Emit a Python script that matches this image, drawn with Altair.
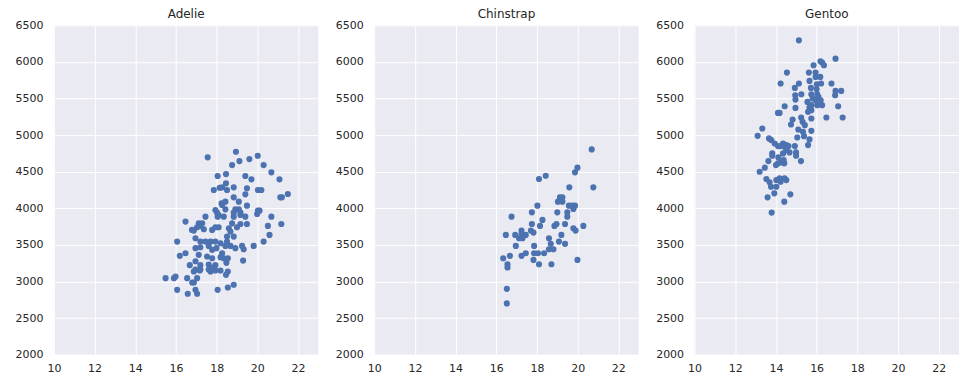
import altair as alt
import pandas as pd

species = ["Adelie", "Chinstrap", "Gentoo"]

adelie_depth = [17.56,18.05,17.86,18.15,18.24,17.94,18.02,18.10,18.05,16.47,17.12,17.29,17.45,17.20,17.37,17.04,16.88,16.79,17.78,17.94,18.10,16.06,16.96,17.20,17.45,17.70,17.94,18.19,16.96,17.20,17.61,17.78,17.99,16.19,16.47,17.12,17.53,17.78,18.19,18.48,16.68,16.96,17.20,17.61,17.94,16.96,17.20,17.61,17.78,16.88,17.17,17.70,17.94,18.19,15.49,15.90,15.98,16.55,16.80,16.88,17.04,16.06,16.58,16.96,17.04,18.05,
                18.95,18.76,19.12,19.61,20.02,20.31,20.69,21.09,18.46,19.41,19.71,18.46,18.27,18.51,18.84,19.49,20.03,20.20,19.41,21.13,21.21,21.50,18.43,18.84,19.09,18.27,19.49,18.43,18.92,19.09,19.17,18.84,20.03,20.11,19.99,18.35,18.84,19.17,19.41,20.69,18.76,19.17,19.49,18.60,19.00,20.52,21.18,18.68,18.84,18.51,20.60,20.31,19.82,18.51,18.43,18.68,18.92,19.25,19.33,18.27,18.35,18.55,19.30,18.55,18.46,18.55,18.84]
adelie_mass = [4696,4441,4250,4281,4068,3977,3940,3909,3886,3818,3795,3795,3886,3760,3714,3741,3695,3705,3705,3741,3741,3545,3591,3545,3545,3545,3545,3523,3455,3468,3486,3432,3455,3350,3386,3364,3341,3318,3332,3255,3223,3277,3223,3232,3223,3164,3164,3164,3186,3136,3150,3136,3150,3150,3045,3045,3068,3045,2986,2986,3045,2886,2832,2886,2832,2886,
               4773,4591,4645,4673,4718,4591,4491,4396,4468,4441,4396,4341,4286,4250,4286,4273,4250,4250,4191,4150,4150,4195,4091,4150,4091,4045,4036,3986,3986,3986,3940,3940,3968,3968,3923,3886,3886,3909,3886,3886,3795,3786,3786,3727,3741,3759,3786,3682,3614,3614,3636,3545,3486,3545,3486,3486,3455,3486,3441,3386,3318,3318,3286,3136,3091,2918,2955]

chinstrap_depth = [18.10,18.02,17.75,16.75,17.75,18.15,16.47,16.93,17.24,17.24,17.45,17.12,17.29,17.70,17.83,16.96,17.86,16.34,16.67,17.24,17.45,17.86,18.05,17.83,18.10,16.55,16.55,16.52,16.52,20.69,19.99,19.87,18.43,20.77,19.59,19.13,19.25,19.03,19.25,19.57,19.74,19.87,19.79,19.49,19.49,19.00,18.27,18.86,18.96,19.38,19.79,19.90,20.28,18.59,19.20,18.68,19.08,19.38,18.59,18.81,18.35,18.71,19.99]
chinstrap_mass = [4400,4036,3945,3886,3786,3759,3636,3636,3695,3650,3636,3591,3591,3695,3668,3486,3486,3318,3350,3350,3386,3386,3386,3295,3236,3236,3191,2900,2700,4805,4555,4491,4445,4286,4286,4150,4150,4091,4091,4036,4036,4036,3991,3945,3886,3945,3841,3759,3786,3786,3727,3695,3759,3591,3636,3514,3545,3514,3441,3441,3386,3236,3295]

gentoo_depth = [15.13,16.19,16.27,16.36,16.93,15.85,14.54,15.62,15.95,15.95,16.18,14.23,15.13,15.65,16.22,16.73,16.01,14.93,15.72,16.00,16.93,17.21,16.91,14.95,15.25,15.74,16.03,16.09,14.96,15.55,15.80,15.95,16.20,15.74,16.03,16.27,14.10,14.18,14.43,14.96,15.65,15.74,15.58,17.06,14.82,15.24,15.31,15.74,16.48,17.28,14.74,15.10,15.42,15.74,15.33,15.05,15.38,15.65,15.58,13.33,13.66,13.77,13.94,14.10,14.23,14.35,14.51,14.62,14.93,14.46,13.82,13.82,14.35,14.51,14.67,14.99,14.99,15.23,13.63,14.12,14.25,14.41,14.00,13.45,14.38,14.10,13.53,13.69,14.02,14.18,14.23,13.76,14.02,13.92,13.59,14.41,14.71,13.79,14.42,14.51,13.10,13.20]
gentoo_mass = [6295,6009,5991,5955,6045,5955,5855,5855,5855,5795,5795,5705,5705,5741,5705,5705,5695,5645,5645,5627,5604,5604,5545,5545,5559,5559,5559,5522,5486,5454,5500,5477,5477,5409,5409,5409,5304,5304,5395,5372,5377,5341,5318,5395,5214,5241,5182,5227,5241,5241,5145,5077,5136,5059,5045,4968,4986,4941,4864,5091,4955,4932,4886,4850,4850,4886,4864,4850,4850,4832,4750,4718,4750,4795,4764,4764,4718,4645,4645,4695,4627,4614,4591,4555,4659,4614,4400,4355,4386,4409,4364,4295,4295,4205,4150,4091,4191,3941,4409,4386,4990,4500]

x_ticks = [10, 12, 14, 16, 18, 20, 22]
y_ticks = [2000, 2500, 3000, 3500, 4000, 4500, 5000, 5500, 6000, 6500]

frames = []
for name, d, m in [("Adelie", adelie_depth, adelie_mass),
                   ("Chinstrap", chinstrap_depth, chinstrap_mass),
                   ("Gentoo", gentoo_depth, gentoo_mass)]:
    frames.append(pd.DataFrame({"species": name, "bill_depth_mm": d, "body_mass_g": m}))
df = pd.concat(frames, ignore_index=True)

panels = []
for name in species:
    c = alt.Chart(df).transform_filter(alt.datum.species == name).mark_circle(
        size=38, opacity=1, color="#4C72B0"
    ).encode(
        x=alt.X("bill_depth_mm:Q", scale=alt.Scale(domain=[10, 23], nice=False, zero=False),
                axis=alt.Axis(values=x_ticks, title=None, labelFlush=False)),
        y=alt.Y("body_mass_g:Q", scale=alt.Scale(domain=[2000, 6500], nice=False, zero=False),
                axis=alt.Axis(values=y_ticks, title=None, format="d")),
    ).properties(width=265, height=330,
                 title=alt.TitleParams(name, fontSize=12, font="DejaVu Sans",
                                       fontWeight="normal", color="#262626", offset=-2))
    panels.append(c)

chart = alt.hconcat(*panels, spacing=17).properties(
    padding={"left": 7, "top": 0, "right": 5, "bottom": 5}
).configure_view(
    fill="#EAEAF2", stroke=None
).configure_axis(
    domain=False, ticks=False, grid=True, gridColor="white", gridWidth=1,
    labelFont="DejaVu Sans", labelFontSize=11, labelColor="#262626", labelPadding=8
).configure_axisY(labelPadding=11)

chart.save("out.html", embed_options={"renderer": "svg", "actions": False})
